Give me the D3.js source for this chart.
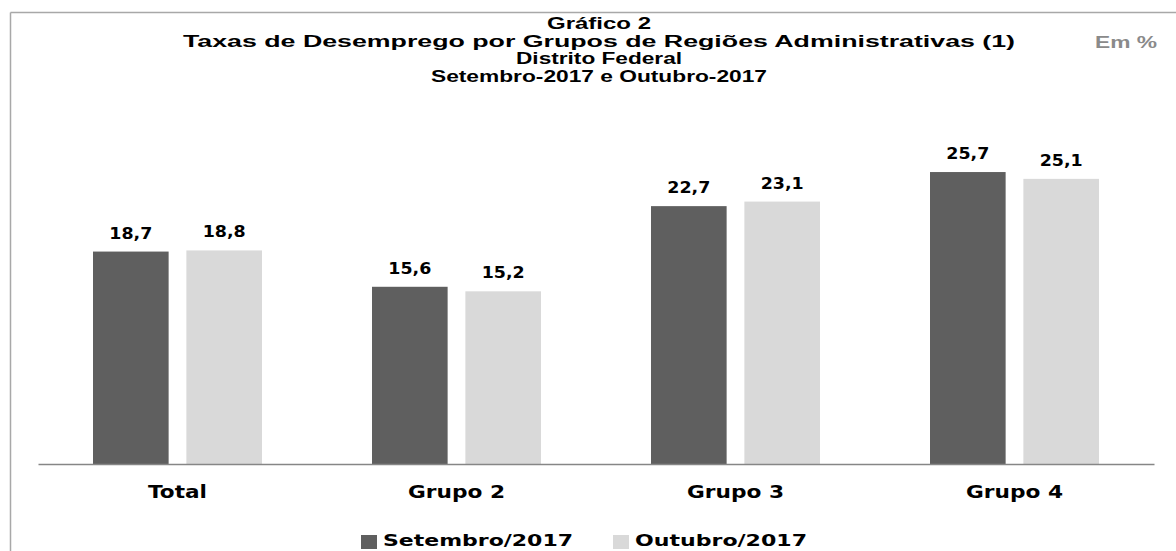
<!DOCTYPE html>
<html>
<head>
<meta charset="utf-8">
<script src="https://cdn.jsdelivr.net/npm/d3@7"></script>
<style>
  html, body { margin: 0; padding: 0; background: #ffffff; }
  svg { display: block; }
</style>
</head>
<body>
<svg id="chart" width="1176" height="551"></svg>
<script>
// ---- data ----
const categories = ["Total", "Grupo 2", "Grupo 3", "Grupo 4"];
const seriesNames = ["Setembro/2017", "Outubro/2017"];
const setembro = [18.7, 15.6, 22.7, 25.7];
const outubro = [18.8, 15.2, 23.1, 25.1];
const titleLines = [
  "Gráfico 2",
  "Taxas de Desemprego por Grupos de Regiões Administrativas (1)",
  "Distrito Federal",
  "Setembro-2017 e Outubro-2017"
];
const unitLabel = "Em %";

// ---- build ----
const seriesValues = [setembro, outubro];
const colors = ["#5f5f5f", "#d9d9d9"];
const svg = d3.select("#chart");

// frame (top and left edges)
svg.append("line").attr("x1", 10.5).attr("x2", 1176).attr("y1", 12.5).attr("y2", 12.5)
  .attr("stroke", "#a8a8a8").attr("stroke-width", 1.5);
svg.append("line").attr("x1", 10.5).attr("x2", 10.5).attr("y1", 12.5).attr("y2", 551)
  .attr("stroke", "#a8a8a8").attr("stroke-width", 1.5);

// title
const titleCenter = 599;
const titleBaselines = [29, 47, 64, 82];
const titleWidths = [104, 832, 166, 336];
svg.selectAll("text.title").data(titleLines).join("text")
  .attr("class", "title")
  .attr("x", titleCenter)
  .attr("y", (d, i) => titleBaselines[i])
  .attr("text-anchor", "middle")
  .attr("textLength", (d, i) => titleWidths[i])
  .attr("lengthAdjust", "spacingAndGlyphs")
  .style("font-family", "'Liberation Sans', Arial, sans-serif")
  .style("font-weight", "bold")
  .style("font-size", "16px")
  .style("fill", "#000")
  .text(d => d);

svg.append("text")
  .attr("x", 1095).attr("y", 48)
  .attr("textLength", 62).attr("lengthAdjust", "spacingAndGlyphs")
  .style("font-family", "'Liberation Sans', Arial, sans-serif")
  .style("font-weight", "bold").style("font-size", "16px")
  .style("fill", "#8a8a8a")
  .text(unitLabel);

// scales
const x0 = d3.scaleBand().domain(categories).range([38, 1154]).paddingInner(0).paddingOuter(0);
const x1 = d3.scaleBand().domain(seriesNames).range([55, 224]).paddingInner(0.19).paddingOuter(0);
const y = d3.scaleLinear().domain([0, 30]).range([464, 123.2]);

const rows = categories.map((c, i) => ({
  cat: c,
  vals: seriesNames.map((s, j) => ({ s, j, v: seriesValues[j][i] }))
}));

const groups = svg.selectAll("g.grp").data(rows).join("g")
  .attr("class", "grp")
  .attr("transform", d => `translate(${x0(d.cat)},0)`);

groups.selectAll("rect").data(d => d.vals).join("rect")
  .attr("x", d => x1(d.s))
  .attr("y", d => y(d.v))
  .attr("width", x1.bandwidth())
  .attr("height", d => y(0) - y(d.v))
  .attr("fill", d => colors[d.j]);

const fmt = v => v.toFixed(1).replace(".", ",");
groups.selectAll("text.val").data(d => d.vals).join("text")
  .attr("class", "val")
  .attr("x", d => x1(d.s) + x1.bandwidth() / 2)
  .attr("y", d => y(d.v) - 13)
  .attr("text-anchor", "middle")
  .attr("textLength", 43).attr("lengthAdjust", "spacingAndGlyphs")
  .style("font-family", "'DejaVu Sans', Verdana, sans-serif")
  .style("font-weight", "bold").style("font-size", "15px")
  .style("fill", "#000")
  .text(d => fmt(d.v));

// x axis
const xAxis = d3.axisBottom(x0).tickSize(0).tickPadding(0);
const axisG = svg.append("g").attr("transform", `translate(0,${y(0)})`).call(xAxis);
axisG.select(".domain").attr("stroke", "#868686").attr("stroke-width", 1.5);
const catWidths = { "Total": 59, "Grupo 2": 97, "Grupo 3": 97, "Grupo 4": 97 };
axisG.selectAll(".tick text")
  .attr("y", 34).attr("dy", 0)
  .attr("textLength", d => catWidths[d]).attr("lengthAdjust", "spacingAndGlyphs")
  .style("font-family", "'DejaVu Sans', Verdana, sans-serif")
  .style("font-weight", "bold").style("font-size", "18px")
  .style("fill", "#000");

// legend
const legendX = [361, 613];
const legendW = [190, 172];
const leg = svg.selectAll("g.leg").data(seriesNames).join("g")
  .attr("class", "leg")
  .attr("transform", (d, i) => `translate(${legendX[i]},534)`);
leg.append("rect").attr("x", 0).attr("y", 1).attr("width", 16).attr("height", 14)
  .attr("fill", (d, i) => colors[i]);
leg.append("text").attr("x", 22).attr("y", 12)
  .attr("textLength", (d, i) => legendW[i]).attr("lengthAdjust", "spacingAndGlyphs")
  .style("font-family", "'DejaVu Sans', Verdana, sans-serif")
  .style("font-weight", "bold").style("font-size", "16px")
  .style("fill", "#000")
  .text(d => d);
</script>
</body>
</html>
